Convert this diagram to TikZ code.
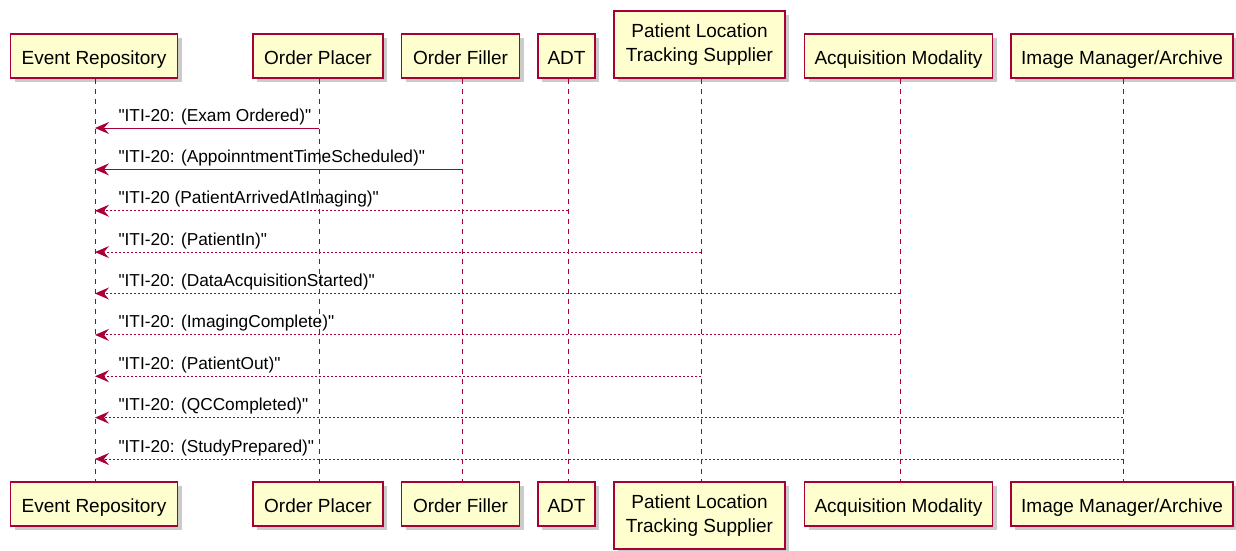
\documentclass[tikz,border=0pt]{standalone}
\usepackage{fontspec}
\newfontfamily\lsans{Liberation Sans}
\usetikzlibrary{arrows.meta,shadows}
\definecolor{pborder}{HTML}{A80036}
\definecolor{pfill}{HTML}{FEFECE}
\begin{document}
\begin{tikzpicture}[x=1pt,y=-1pt,
  pbox/.style={draw=pborder, fill=pfill, line width=1.5pt,
    font=\lsans\fontsize{19}{24}\selectfont, align=center, inner sep=0pt,
    drop shadow={shadow xshift=4pt, shadow yshift=-4pt, fill=black!45, opacity=0.45}},
  participant/.style={pbox, minimum height=44pt, text height=17pt, text depth=1pt},
  participant2/.style={pbox, minimum height=67pt},
  lifeline/.style={draw=pborder, line width=1pt, dash pattern=on 5pt off 5pt},
  msg/.style={draw=pborder, line width=1pt, -{Stealth[length=14pt,width=12pt,inset=5pt]}},
  msgdash/.style={msg, dash pattern=on 2pt off 2pt},
  lbl/.style={font=\lsans\fontsize{17.3}{20}\selectfont, inner sep=0pt, anchor=base west, text=black}
]
\useasboundingbox (0,0) rectangle (1236,551);

% top participants
\node[participant, minimum width=167pt] (ERt) at (94,56) {Event Repository};
\node[participant, minimum width=130pt] (OPt) at (318,56) {Order Placer};
\node[participant, minimum width=118pt] (OFt) at (460.5,56) {Order Filler};
\node[participant, minimum width=57pt]  (ADTt) at (566.5,56) {ADT};
\node[participant2, minimum width=171pt] (PLt) at (699.5,44.5) {Patient Location\\Tracking Supplier};
\node[participant, minimum width=188pt] (AMt) at (898.5,56) {Acquisition Modality};
\node[participant, minimum width=222pt] (IMt) at (1122,56) {Image Manager/Archive};

% bottom participants
\node[participant, minimum width=167pt] (ERb) at (94,504) {Event Repository};
\node[participant, minimum width=130pt] (OPb) at (318,504) {Order Placer};
\node[participant, minimum width=118pt] (OFb) at (460.5,504) {Order Filler};
\node[participant, minimum width=57pt]  (ADTb) at (566.5,504) {ADT};
\node[participant2, minimum width=171pt] (PLb) at (699.5,515.5) {Patient Location\\Tracking Supplier};
\node[participant, minimum width=188pt] (AMb) at (898.5,504) {Acquisition Modality};
\node[participant, minimum width=222pt] (IMb) at (1122,504) {Image Manager/Archive};

% lifelines
\coordinate (xER) at (95,0);
\coordinate (xOP) at (319,0);
\coordinate (xOF) at (462,0);
\coordinate (xADT) at (568,0);
\coordinate (xPL) at (701,0);
\coordinate (xAM) at (900,0);
\coordinate (xIM) at (1123,0);
\draw[lifeline] (xER |- ERt.south) -- (xER |- ERb.north);
\draw[lifeline] (xOP |- OPt.south) -- (xOP |- OPb.north);
\draw[lifeline] (xOF |- OFt.south) -- (xOF |- OFb.north);
\draw[lifeline] (xADT |- ADTt.south) -- (xADT |- ADTb.north);
\draw[lifeline] (xPL |- PLt.south) -- (xPL |- PLb.north);
\draw[lifeline] (xAM |- AMt.south) -- (xAM |- AMb.north);
\draw[lifeline] (xIM |- IMt.south) -- (xIM |- IMb.north);

% message rows
\coordinate (y1) at (0,128);
\coordinate (y2) at (0,169.4);
\coordinate (y3) at (0,210.75);
\coordinate (y4) at (0,252.1);
\coordinate (y5) at (0,293.5);
\coordinate (y6) at (0,334.9);
\coordinate (y7) at (0,376.25);
\coordinate (y8) at (0,417.6);
\coordinate (y9) at (0,459);

\draw[msg] (xOP |- y1) -- (xER |- y1)
  node[lbl, pos=1, shift={(23pt,7pt)}] (l1) {"ITI-20: (Exam Ordered)"};
\draw[msg] (xOF |- y2) -- (xER |- y2)
  node[lbl, pos=1, shift={(23pt,7pt)}] (l2) {"ITI-20: (AppoinntmentTimeScheduled)"};
\draw[msgdash] (xADT |- y3) -- (xER |- y3)
  node[lbl, pos=1, shift={(23pt,7pt)}] (l3) {"ITI-20 (PatientArrivedAtImaging)"};
\draw[msgdash] (xPL |- y4) -- (xER |- y4)
  node[lbl, pos=1, shift={(23pt,7pt)}] (l4) {"ITI-20: (PatientIn)"};
\draw[msgdash] (xAM |- y5) -- (xER |- y5)
  node[lbl, pos=1, shift={(23pt,7pt)}] (l5) {"ITI-20: (DataAcquisitionStarted)"};
\draw[msgdash] (xAM |- y6) -- (xER |- y6)
  node[lbl, pos=1, shift={(23pt,7pt)}] (l6) {"ITI-20: (ImagingComplete)"};
\draw[msgdash] (xPL |- y7) -- (xER |- y7)
  node[lbl, pos=1, shift={(23pt,7pt)}] (l7) {"ITI-20: (PatientOut)"};
\draw[msgdash] (xIM |- y8) -- (xER |- y8)
  node[lbl, pos=1, shift={(23pt,7pt)}] (l8) {"ITI-20: (QCCompleted)"};
\draw[msgdash] (xIM |- y9) -- (xER |- y9)
  node[lbl, pos=1, shift={(23pt,7pt)}] (l9) {"ITI-20: (StudyPrepared)"};
\end{tikzpicture}
\end{document}
